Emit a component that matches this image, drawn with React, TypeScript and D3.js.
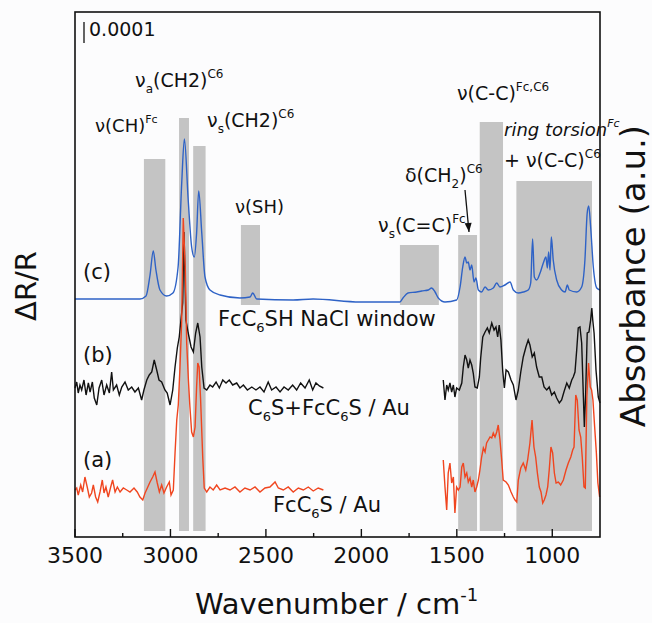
import * as d3 from "d3";

// wavenumber axis
const xMajor = [3500, 3000, 2500, 2000, 1500, 1000];
const xMinor = [3250, 2750, 2250, 1750, 1250];

// grey assignment bands: [from, to, top, bottom] (a.u. from the axis)
const bands = [
  [3139, 3027, 378, 6],
  [2955, 2903, 419, 6],
  [2881, 2816, 391, 6],
  [2631, 2531, 312, 232],
  [1798, 1594, 292, 232],
  [1493, 1394, 302, 6],
  [1380, 1258, 415, 6],
  [1188, 792, 356, 6],
];

// (c) FcC6SH NaCl window (absorbance)
const specC = [
  [3500, 238], [3160, 238], [3128, 241], [3107, 262], [3090, 286], [3076, 267], [3055, 247],
  [3020, 241], [2987, 244], [2960, 270], [2941, 354], [2927, 398], [2907, 337], [2889, 290],
  [2875, 280], [2863, 304], [2852, 346], [2836, 304], [2819, 260], [2793, 247], [2740, 242],
  [2636, 239], [2583, 240], [2569, 244], [2548, 238], [2358, 237], [2253, 238], [2007, 235],
  [1798, 235], [1782, 239], [1756, 244], [1710, 245], [1684, 246], [1649, 247], [1632, 249],
  [1614, 245], [1597, 239], [1562, 235], [1501, 237], [1483, 250], [1469, 270], [1457, 280],
  [1448, 274], [1440, 275], [1431, 267], [1422, 272], [1410, 255], [1400, 259], [1387, 247],
  [1370, 245], [1352, 250], [1335, 247], [1309, 249], [1291, 254], [1274, 250], [1248, 252],
  [1221, 255], [1204, 247], [1178, 244], [1152, 245], [1126, 247], [1113, 254], [1103, 298],
  [1094, 260], [1082, 257], [1064, 264], [1047, 274], [1033, 280], [1026, 269], [1019, 285],
  [1012, 267], [1005, 300], [995, 277], [977, 257], [951, 247], [933, 245], [921, 252],
  [911, 247], [872, 245], [846, 250], [829, 277], [817, 324], [809, 331], [799, 310],
  [785, 270], [767, 249], [750, 247],
];

// (b) C6S+FcC6S / Au, two measured windows
const specB1 = [
  [3500, 149], [3491, 155], [3483, 144], [3474, 152], [3465, 147], [3453, 157], [3442, 142],
  [3430, 154], [3421, 145], [3409, 155], [3399, 139], [3386, 132], [3374, 149], [3360, 157],
  [3348, 142], [3334, 152], [3320, 144], [3308, 165], [3299, 147], [3282, 152], [3268, 142],
  [3255, 150], [3238, 155], [3221, 147], [3203, 150], [3186, 145], [3168, 149], [3151, 137],
  [3139, 147], [3124, 157], [3111, 162], [3098, 165], [3085, 177], [3072, 167], [3060, 157],
  [3046, 155], [3029, 147], [3017, 144], [3002, 132], [2988, 147], [2976, 170], [2964, 189],
  [2954, 200], [2945, 217], [2936, 234], [2929, 305], [2919, 217], [2907, 204], [2892, 190],
  [2880, 185], [2868, 204], [2857, 214], [2845, 200], [2836, 170], [2824, 149], [2810, 147],
  [2793, 152], [2779, 150], [2761, 155], [2744, 149], [2726, 157], [2709, 154], [2692, 157],
  [2674, 152], [2653, 154], [2636, 149], [2618, 152], [2597, 147], [2574, 150], [2552, 147],
  [2531, 150], [2510, 145], [2488, 155], [2470, 147], [2447, 150], [2426, 145], [2405, 150],
  [2383, 147], [2360, 152], [2339, 147], [2318, 154], [2295, 149], [2273, 157], [2255, 147],
  [2238, 154], [2220, 151], [2199, 149],
];
const specB2 = [
  [1571, 157], [1562, 137], [1553, 152], [1545, 147], [1536, 154], [1527, 145], [1518, 152],
  [1510, 140], [1501, 149], [1487, 147], [1474, 154], [1466, 170], [1457, 182], [1448, 177],
  [1440, 169], [1431, 177], [1422, 172], [1414, 164], [1405, 150], [1393, 149], [1382, 160],
  [1375, 179], [1364, 200], [1352, 205], [1340, 209], [1330, 204], [1317, 214], [1305, 207],
  [1295, 210], [1286, 200], [1278, 212], [1269, 197], [1260, 167], [1251, 149], [1242, 167],
  [1230, 165], [1216, 157], [1204, 152], [1190, 137], [1178, 147], [1165, 165], [1152, 180],
  [1138, 190], [1126, 197], [1117, 192], [1105, 180], [1094, 184], [1082, 170], [1068, 160],
  [1055, 160], [1043, 150], [1029, 147], [1016, 150], [1003, 142], [989, 145], [977, 139],
  [963, 134], [951, 137], [939, 145], [924, 154], [911, 149], [898, 157], [890, 160],
  [881, 165], [872, 187], [864, 209], [855, 210], [846, 194], [837, 140], [832, 110],
  [825, 144], [817, 204], [808, 205], [799, 217], [793, 229], [788, 217], [781, 204],
  [771, 167], [759, 140], [750, 134],
];

// (a) FcC6S / Au, two measured windows
const specA1 = [
  [3500, 47], [3491, 49], [3483, 42], [3470, 52], [3460, 45], [3448, 60], [3436, 50],
  [3425, 40], [3413, 44], [3404, 52], [3392, 40], [3381, 35], [3369, 45], [3357, 57],
  [3348, 44], [3338, 50], [3326, 40], [3313, 50], [3303, 57], [3290, 45], [3278, 50],
  [3264, 45], [3247, 49], [3229, 47], [3212, 45], [3191, 49], [3174, 45], [3160, 40],
  [3145, 37], [3133, 44], [3121, 49], [3107, 55], [3093, 60], [3081, 65], [3069, 54],
  [3058, 45], [3046, 52], [3034, 44], [3020, 50], [3006, 55], [2997, 42], [2985, 47],
  [2976, 84], [2967, 117], [2959, 132], [2950, 170], [2941, 217], [2933, 319], [2922, 267],
  [2915, 194], [2906, 157], [2898, 130], [2889, 105], [2880, 100], [2871, 110], [2863, 150],
  [2857, 174], [2850, 170], [2842, 137], [2831, 80], [2823, 49], [2810, 45], [2793, 50],
  [2776, 47], [2758, 52], [2740, 47], [2714, 49], [2688, 47], [2662, 50], [2636, 45],
  [2610, 49], [2583, 47], [2557, 50], [2531, 45], [2505, 49], [2479, 50], [2452, 55],
  [2435, 49], [2409, 47], [2383, 50], [2357, 45], [2330, 49], [2304, 47], [2278, 50],
  [2252, 46], [2226, 49], [2199, 47],
];
const specA2 = [
  [1571, 77], [1562, 50], [1553, 27], [1545, 64], [1536, 74], [1527, 54], [1518, 60],
  [1510, 24], [1501, 50], [1492, 47], [1483, 50], [1474, 70], [1466, 74], [1457, 60],
  [1448, 64], [1440, 55], [1431, 59], [1422, 50], [1414, 57], [1405, 45], [1396, 50],
  [1387, 57], [1379, 67], [1370, 80], [1361, 89], [1352, 85], [1344, 94], [1335, 97],
  [1326, 100], [1317, 99], [1309, 104], [1300, 100], [1291, 105], [1283, 112], [1274, 97],
  [1265, 77], [1257, 57], [1242, 55], [1230, 52], [1216, 45], [1204, 40], [1195, 37],
  [1186, 35], [1178, 57], [1165, 69], [1152, 74], [1139, 67], [1129, 77], [1117, 94],
  [1106, 117], [1096, 90], [1087, 80], [1078, 64], [1068, 50], [1059, 45], [1050, 34],
  [1042, 37], [1033, 42], [1024, 50], [1016, 67], [1007, 90], [998, 84], [989, 64],
  [980, 54], [968, 55], [956, 52], [942, 57], [928, 67], [916, 74], [903, 80], [893, 87],
  [886, 90], [877, 142], [869, 137], [860, 107], [851, 100], [843, 80], [834, 50],
  [827, 49], [819, 140], [810, 174], [801, 150], [794, 147], [787, 137], [778, 110],
  [769, 84], [761, 54], [752, 40],
];

const FONT = "DejaVu Sans";

type Part = [string, "n" | "sub" | "sup"];

function Label({ x, y, size, parts, italic }: { x: number; y: number; size: number; parts: Part[]; italic?: boolean }) {
  let cur = 0;
  const small = Math.round(size * 0.62);
  return (
    <text x={x} y={y} fontSize={size} fontFamily={FONT} fontStyle={italic ? "italic" : "normal"} fill="#111">
      {parts.map(([t, k], i) => {
        const target = k === "sub" ? size * 0.3 : k === "sup" ? -size * 0.48 : 0;
        const dy = target - cur;
        cur = target;
        return (
          <tspan key={i} dy={dy} fontSize={k === "n" ? size : small}>
            {t}
          </tspan>
        );
      })}
    </text>
  );
}

export default function App() {
  const left = 75, right = 600, top = 12, bottom = 537;
  const x = d3.scaleLinear().domain([3500, 750]).range([left, right]);
  const y = d3.scaleLinear().domain([0, 525]).range([bottom, top]);
  const line = d3.line<number[]>().x(d => x(d[0])).y(d => y(d[1]));
  const smooth = d3.line<number[]>().x(d => x(d[0])).y(d => y(d[1])).curve(d3.curveMonotoneX);

  // arrow from delta(CH2) label down to its band
  const ax1 = 465, ay1 = 190, ax2 = 469, ay2 = 232;
  const ang = Math.atan2(ay2 - ay1, ax2 - ax1);
  const head = [
    [ax2, ay2],
    [ax2 - 9 * Math.cos(ang) + 3.5 * Math.sin(ang), ay2 - 9 * Math.sin(ang) - 3.5 * Math.cos(ang)],
    [ax2 - 9 * Math.cos(ang) - 3.5 * Math.sin(ang), ay2 - 9 * Math.sin(ang) + 3.5 * Math.cos(ang)],
  ];

  return (
    <svg width={652} height={623} style={{ position: "absolute", left: 0, top: 0, background: "#fcfcfd" }}>
      {bands.map((b, i) => (
        <rect key={i} x={x(b[0])} width={x(b[1]) - x(b[0])} y={y(b[2])} height={y(b[3]) - y(b[2])} fill="#c4c4c4" />
      ))}

      <path d={smooth(specC) ?? ""} fill="none" stroke="#2e62c6" strokeWidth={1.4} />
      <path d={line(specB1) ?? ""} fill="none" stroke="#111" strokeWidth={1.4} />
      <path d={line(specB2) ?? ""} fill="none" stroke="#111" strokeWidth={1.4} />
      <path d={line(specA1) ?? ""} fill="none" stroke="#f0451f" strokeWidth={1.4} />
      <path d={line(specA2) ?? ""} fill="none" stroke="#f0451f" strokeWidth={1.4} />

      <rect x={left} y={top} width={right - left} height={bottom - top} fill="none" stroke="#111" strokeWidth={1.6} />
      {xMajor.map(t => (
        <line key={t} x1={x(t)} x2={x(t)} y1={bottom} y2={bottom - 8} stroke="#111" strokeWidth={1.4} />
      ))}
      {xMinor.map(t => (
        <line key={t} x1={x(t)} x2={x(t)} y1={bottom} y2={bottom - 4} stroke="#111" strokeWidth={1.4} />
      ))}
      {xMajor.map(t => (
        <text key={t} x={x(t)} y={563} textAnchor="middle" fontSize={22} fontFamily={FONT} fill="#111">
          {t}
        </text>
      ))}

      <text x={195} y={614} fontSize={29} fontFamily={FONT} fill="#111">
        Wavenumber / cm<tspan dy={-13} fontSize={18}>-1</tspan>
      </text>
      <text transform="translate(36,286) rotate(-90)" textAnchor="middle" fontSize={29} fontFamily={FONT} fill="#111">
        ΔR/R
      </text>
      <text transform="translate(645,276) rotate(-90)" textAnchor="middle" fontSize={34} fontFamily={FONT} fill="#111">
        Absorbance (a.u.)
      </text>

      {/* scale bar */}
      <line x1={84} x2={84} y1={22} y2={43} stroke="#111" strokeWidth={1.3} />
      <text x={89} y={36} fontSize={19} fontFamily={FONT} fill="#111">0.0001</text>

      <Label x={95} y={132} size={18} parts={[["ν(CH)", "n"], ["Fc", "sup"]]} />
      <Label x={135} y={87} size={19} parts={[["ν", "n"], ["a", "sub"], ["(CH2)", "n"], ["C6", "sup"]]} />
      <Label x={207} y={127} size={19} parts={[["ν", "n"], ["s", "sub"], ["(CH2)", "n"], ["C6", "sup"]]} />
      <Label x={235} y={213} size={18} parts={[["ν(SH)", "n"]]} />
      <Label x={378} y={232} size={19} parts={[["ν", "n"], ["s", "sub"], ["(C=C)", "n"], ["Fc", "sup"]]} />
      <Label x={405} y={182} size={19} parts={[["δ(CH", "n"], ["2", "sub"], [")", "n"], ["C6", "sup"]]} />
      <Label x={457} y={100} size={19} parts={[["ν(C-C)", "n"], ["Fc,C6", "sup"]]} />
      <Label x={504} y={136} size={18} italic parts={[["ring torsion", "n"], ["Fc", "sup"]]} />
      <Label x={504} y={167} size={19} parts={[["+ ν(C-C)", "n"], ["C6", "sup"]]} />

      <Label x={83} y={279} size={21} parts={[["(c)", "n"]]} />
      <Label x={83} y={362} size={21} parts={[["(b)", "n"]]} />
      <Label x={83} y={467} size={21} parts={[["(a)", "n"]]} />
      <Label x={218} y={326} size={21} parts={[["FcC", "n"], ["6", "sub"], ["SH NaCl window", "n"]]} />
      <Label x={248} y={415} size={21} parts={[["C", "n"], ["6", "sub"], ["S+FcC", "n"], ["6", "sub"], ["S / Au", "n"]]} />
      <Label x={273} y={512} size={21} parts={[["FcC", "n"], ["6", "sub"], ["S / Au", "n"]]} />

      <line x1={ax1} y1={ay1} x2={ax2} y2={ay2} stroke="#111" strokeWidth={1.3} />
      <polygon points={head.map(p => p.join(",")).join(" ")} fill="#111" />
    </svg>
  );
}
